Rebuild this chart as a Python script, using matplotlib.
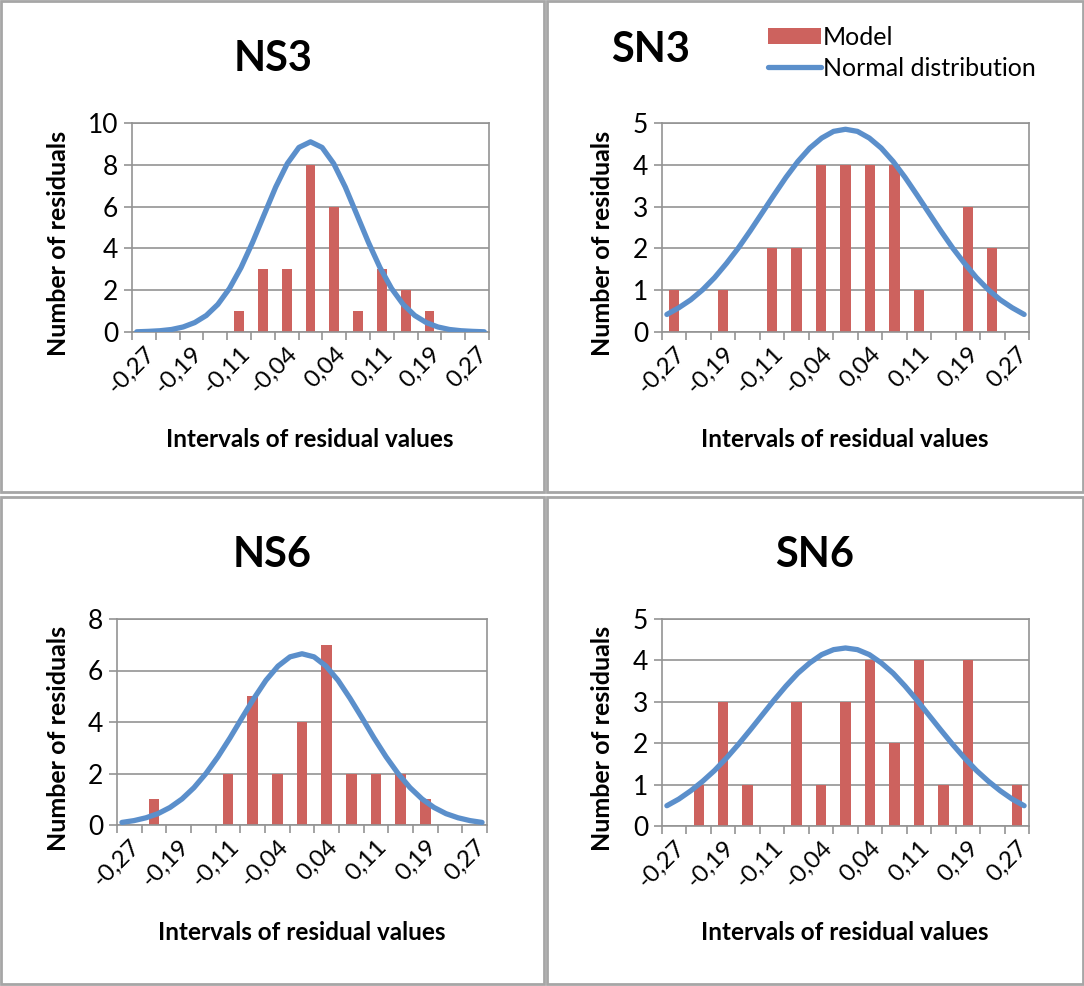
import numpy as np
import matplotlib
matplotlib.use('Agg')
import matplotlib.pyplot as plt
from matplotlib.patches import Rectangle, Patch
from matplotlib.lines import Line2D

plt.rcParams['font.family'] = ['Lato', 'DejaVu Sans']

# 15 residual intervals, every second one labelled
tick_labels = ['-0,27', '-0,19', '-0,11', '-0,04', '0,04', '0,11', '0,19', '0,27']

# counts of residuals per interval
ns3_counts = [0, 0, 0, 0, 1, 3, 3, 8, 6, 1, 3, 2, 1, 0, 0]
sn3_counts = [1, 0, 1, 0, 2, 2, 4, 4, 4, 4, 1, 0, 3, 2, 0]
ns6_counts = [0, 1, 0, 0, 2, 5, 2, 4, 7, 2, 2, 2, 1, 0, 0]
sn6_counts = [0, 1, 3, 1, 0, 3, 1, 3, 4, 2, 4, 1, 4, 0, 1]

# fitted normal curves (31 points across the range)
ns3_norm = [0.01, 0.03, 0.06, 0.12, 0.24, 0.45, 0.79, 1.32, 2.08, 3.08, 4.29, 5.62, 6.94, 8.06, 8.83, 9.10,
            8.83, 8.06, 6.94, 5.62, 4.29, 3.08, 2.08, 1.32, 0.79, 0.45, 0.24, 0.12, 0.06, 0.03, 0.01]
sn3_norm = [0.42, 0.58, 0.77, 1.01, 1.30, 1.64, 2.01, 2.42, 2.85, 3.28, 3.70, 4.08, 4.40, 4.64, 4.80, 4.85,
            4.80, 4.64, 4.40, 4.08, 3.70, 3.28, 2.85, 2.42, 2.01, 1.64, 1.30, 1.01, 0.77, 0.58, 0.42]
ns6_norm = [0.10, 0.17, 0.28, 0.44, 0.68, 1.01, 1.45, 2.00, 2.65, 3.38, 4.16, 4.92, 5.62, 6.17, 6.53, 6.65,
            6.53, 6.17, 5.62, 4.92, 4.16, 3.38, 2.65, 2.00, 1.45, 1.01, 0.68, 0.44, 0.28, 0.17, 0.10]
sn6_norm = [0.49, 0.65, 0.85, 1.08, 1.34, 1.64, 1.97, 2.32, 2.68, 3.04, 3.38, 3.69, 3.94, 4.14, 4.26, 4.30,
            4.26, 4.14, 3.94, 3.69, 3.38, 3.04, 2.68, 2.32, 1.97, 1.64, 1.34, 1.08, 0.85, 0.65, 0.49]

BAR_COLOR = '#CD625E'
LINE_COLOR = '#5B8FCB'
GRID_COLOR = '#939393'

W, H = 1084, 986
fig = plt.figure(figsize=(W / 100, H / 100), dpi=100)


def fx(px):
    return px / W


def fy(py):
    return 1 - py / H


# panel frames
for x0, y0, x1, y1 in [(1, 1, 544, 492), (547, 1, 1083, 492), (1, 497, 544, 984), (547, 497, 1083, 984)]:
    fig.patches.append(Rectangle((fx(x0), fy(y1)), fx(x1 - x0), (y1 - y0) / H, transform=fig.transFigure,
                                 fill=False, edgecolor='#A6A6A6', linewidth=2))

panels = [
    # title, counts, curve, ymax, ystep, axes box (px), title pos, ylabel x, xlabel pos
    ('NS3', ns3_counts, ns3_norm, 10, 2, (132, 123, 489, 332), (273, 59), 58, (310, 440)),
    ('SN3', sn3_counts, sn3_norm, 5, 1, (662, 123, 1029, 332), (651, 50), 603, (845, 440)),
    ('NS6', ns6_counts, ns6_norm, 8, 2, (117, 619, 487, 825), (272, 555), 58, (302, 932)),
    ('SN6', sn6_counts, sn6_norm, 5, 1, (662, 619, 1029, 826), (815, 555), 603, (845, 933)),
]

for title, counts, curve, ymax, ystep, box, tpos, ylx, xlpos in panels:
    l, t, r, b = box
    ax = fig.add_axes([fx(l), fy(b), fx(r - l), (b - t) / H])
    cats = np.arange(len(counts))
    ax.bar(cats, counts, width=0.42, color=BAR_COLOR, zorder=2)
    cx = np.linspace(-0.3, len(counts) - 0.7, len(curve))
    ax.plot(cx, curve, color=LINE_COLOR, linewidth=3.8, solid_capstyle='round', zorder=3)

    ax.set_xlim(-0.5, len(counts) - 0.5)
    ax.set_ylim(0, ymax)
    ax.set_yticks(np.arange(0, ymax + 0.1, ystep))
    ax.yaxis.grid(True, color=GRID_COLOR, linewidth=1.2, zorder=0)
    ax.set_axisbelow(True)

    # tick marks between categories, labels on every second category
    ax.set_xticks(np.arange(-0.5, len(counts), 1))
    ax.set_xticklabels([])
    ax.set_xticks(np.arange(0, len(counts), 2), minor=True)
    ax.set_xticklabels(tick_labels, minor=True, rotation=45, ha='right', va='top',
                       rotation_mode='anchor', fontsize=17.5)
    ax.tick_params(axis='x', which='major', length=6, color=GRID_COLOR, width=1.2)
    ax.tick_params(axis='x', which='minor', length=0, pad=8)
    ax.tick_params(axis='y', length=6, color=GRID_COLOR, width=1.2, labelsize=19, pad=4)
    for sp in ax.spines.values():
        sp.set_color(GRID_COLOR)
        sp.set_linewidth(1.2)

    fig.text(fx(tpos[0]), fy(tpos[1]), title, fontsize=30, fontweight='bold', ha='center', va='center')
    fig.text(fx(ylx), fy((t + b) / 2 + 16), 'Number of residuals', fontsize=18, fontweight='bold',
             rotation=90, ha='center', va='center')
    fig.text(fx(xlpos[0]), fy(xlpos[1]), 'Intervals of residual values', fontsize=17.5, fontweight='bold',
             ha='center', va='center')

handles = [Patch(facecolor=BAR_COLOR, edgecolor='none'),
           Line2D([0], [0], color=LINE_COLOR, linewidth=3.8, solid_capstyle='round')]
fig.legend(handles, ['Model', 'Normal distribution'], loc='upper left',
           bbox_to_anchor=(fx(768), fy(26)), frameon=False, fontsize=18,
           handlelength=2.1, handleheight=0.6, handletextpad=0.1, labelspacing=0.3,
           borderaxespad=0, borderpad=0)

fig.savefig('out.png', dpi=100)
